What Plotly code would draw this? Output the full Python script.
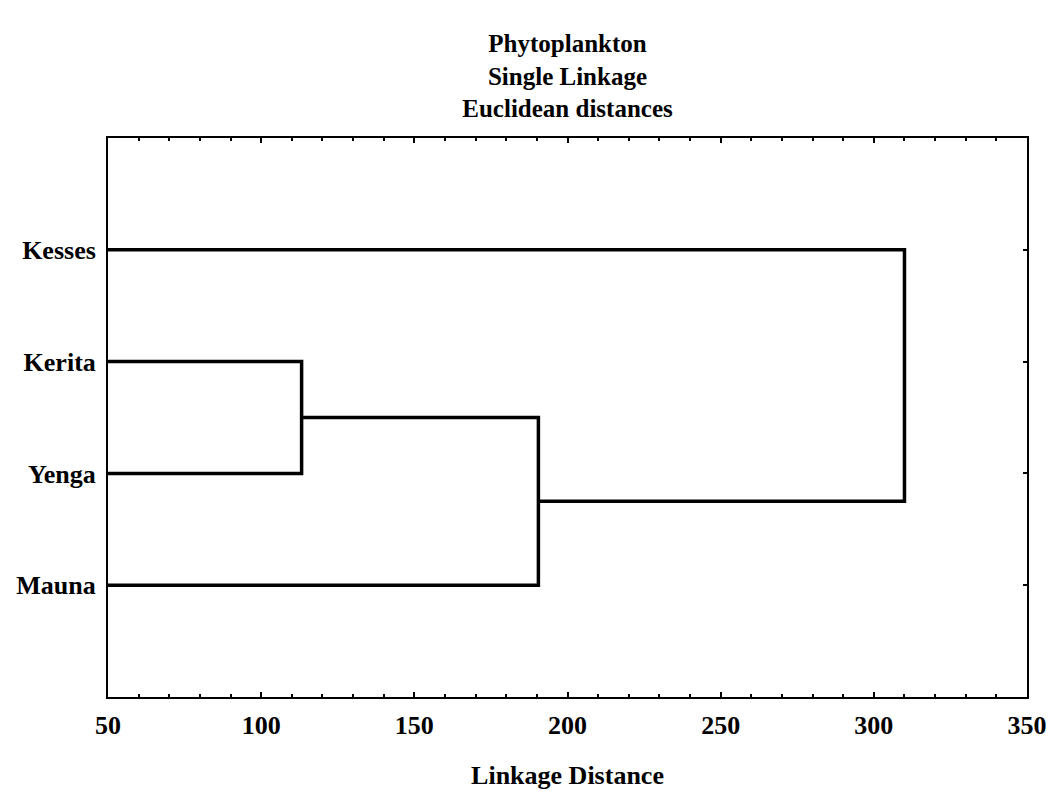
import plotly.graph_objects as go

# Data
leaves = ["Kesses", "Kerita", "Yenga", "Mauna"]
leaf_pos = [4, 3, 2, 1]
# merges: (left member, right member, linkage distance)
merges = [("Kerita", "Yenga", 113.2),
          ("C1", "Mauna", 190.5),
          ("C2", "Kesses", 310.0)]
x_min = 50
x_ticks = [50, 100, 150, 200, 250, 300, 350]

pos = {n: (x_min, p) for n, p in zip(leaves, leaf_pos)}
fig = go.Figure()
for i, (a, b, d) in enumerate(merges):
    xa, ya = pos[a]
    xb, yb = pos[b]
    fig.add_trace(go.Scatter(x=[xa, d, d, xb], y=[ya, ya, yb, yb], mode="lines",
                             line=dict(color="black", width=3.5), hoverinfo="skip",
                             showlegend=False))
    pos["C%d" % (i + 1)] = (d, (ya + yb) / 2)

font = "Liberation Serif, Times New Roman, serif"
fig.update_layout(
    width=1052, height=791,
    margin=dict(l=108, r=25, t=138, b=94),
    plot_bgcolor="white", paper_bgcolor="white",
    title=dict(text="<b>Phytoplankton</b><br><b>Single Linkage</b><br><b>Euclidean distances</b>",
               x=0.5, xanchor="center", xref="paper", yref="container", y=0.934, yanchor="top",
               font=dict(family=font, size=25, color="black")),
    font=dict(family=font, color="black"),
)
fig.update_xaxes(range=[50, 350], tickvals=x_ticks, ticktext=["<b>%d</b>" % v for v in x_ticks],
                 ticks="inside", ticklen=5, tickwidth=1.5, automargin=False,
                 tickcolor="black", minor=dict(dtick=10, ticks="inside", ticklen=3, tickcolor="black"),
                 showline=True, linecolor="black", linewidth=2, mirror="ticks", showgrid=False,
                 zeroline=False, ticklabelstandoff=4,
                 tickfont=dict(family=font, size=26, color="black"),
                 title=dict(text="<b>Linkage Distance</b>", standoff=27,
                            font=dict(family=font, size=26, color="black")))
fig.update_yaxes(range=[0, 5], tickvals=leaf_pos, ticktext=["<b>%s</b>" % l for l in leaves],
                 ticks="inside", ticklen=4, tickwidth=1.5, tickcolor="black", automargin=False,
                 showline=True, linecolor="black", linewidth=2, mirror="ticks", showgrid=False,
                 zeroline=False, ticklabelstandoff=5,
                 tickfont=dict(family=font, size=26, color="black"))
fig.write_html("out.html", config={"displayModeBar": False},
               post_script="document.body.style.margin='0';document.body.style.overflow='hidden';")
